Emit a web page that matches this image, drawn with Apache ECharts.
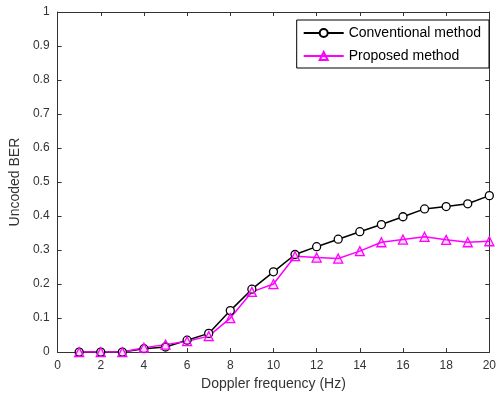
<!DOCTYPE html>
<html>
<head>
<meta charset="utf-8">
<script src="https://cdn.jsdelivr.net/npm/echarts@6/dist/echarts.min.js"></script>
<style>
  html, body { margin: 0; padding: 0; background: #fff; }
  #chart { width: 499px; height: 396px; }
</style>
</head>
<body>
<div id="chart"></div>
<script>
// Doppler frequency (Hz)
var freqs = [1, 2, 3, 4, 5, 6, 7, 8, 9, 10, 11, 12, 13, 14, 15, 16, 17, 18, 19, 20];
// uncoded BER
var conventional = [0, 0, 0, 0.010, 0.015, 0.035, 0.055, 0.122, 0.185, 0.236, 0.287, 0.310, 0.332, 0.354, 0.375, 0.398, 0.421, 0.428, 0.436, 0.460];
var proposed = [0, 0, 0, 0.013, 0.022, 0.032, 0.047, 0.100, 0.177, 0.200, 0.282, 0.278, 0.275, 0.297, 0.323, 0.331, 0.339, 0.330, 0.323, 0.326];

var pairs = function (ys) {
    return freqs.map(function (x, i) { return [x, ys[i]]; });
};

var FONT = 'Liberation Sans';
var labelStyle = { color: '#333', fontFamily: FONT, fontSize: 12 };
var lineStyle = { color: '#333', width: 1 };

var chart = echarts.init(document.getElementById('chart'));

var option = {
    animation: false,
    backgroundColor: '#fff',
    grid: { left: 54, top: 12, right: 7, bottom: 43 },
    legend: {
        right: 10,
        top: 20,
        orient: 'vertical',
        itemWidth: 40,
        itemHeight: 10,
        itemGap: 9,
        padding: [6, 8, 5, 6],
        borderColor: '#000',
        borderWidth: 1,
        backgroundColor: '#fff',
        textStyle: { color: '#000', fontFamily: FONT, fontSize: 14 },
        data: ['Conventional method', 'Proposed method']
    },
    xAxis: [
        {
            type: 'value', min: 0, max: 20, interval: 2,
            name: 'Doppler frequency (Hz)',
            nameLocation: 'middle', nameGap: 23,
            nameTextStyle: { color: '#333', fontFamily: FONT, fontSize: 14 },
            axisLine: { onZero: false, lineStyle: lineStyle },
            axisTick: { inside: true, length: 4, lineStyle: lineStyle },
            axisLabel: labelStyle,
            splitLine: { show: false }
        },
        {
            type: 'value', min: 0, max: 20, interval: 2, position: 'top',
            axisLine: { onZero: false, lineStyle: lineStyle },
            axisTick: { inside: true, length: 4, lineStyle: lineStyle },
            axisLabel: { show: false },
            splitLine: { show: false }
        }
    ],
    yAxis: [
        {
            type: 'value', min: 0, max: 1, interval: 0.1,
            name: 'Uncoded BER',
            nameLocation: 'middle', nameGap: 30,
            nameTextStyle: { color: '#333', fontFamily: FONT, fontSize: 14 },
            axisLine: { show: true, onZero: false, lineStyle: lineStyle },
            axisTick: { show: true, inside: true, length: 4, lineStyle: lineStyle },
            axisLabel: labelStyle,
            splitLine: { show: false }
        },
        {
            type: 'value', min: 0, max: 1, interval: 0.1, position: 'right',
            axisLine: { show: true, onZero: false, lineStyle: lineStyle },
            axisTick: { show: true, inside: true, length: 4, lineStyle: lineStyle },
            axisLabel: { show: false },
            splitLine: { show: false }
        }
    ],
    series: [
        {
            name: 'Conventional method',
            type: 'line',
            data: pairs(conventional),
            symbol: 'circle',
            symbolSize: 8,
            color: '#000',
            lineStyle: { color: '#000', width: 1.5 },
            itemStyle: { color: '#fff', borderColor: '#000', borderWidth: 1.3 }
        },
        {
            name: 'Proposed method',
            type: 'line',
            data: pairs(proposed),
            symbol: 'triangle',
            symbolSize: 9,
            color: '#ff00ff',
            lineStyle: { color: '#ff00ff', width: 1.5 },
            itemStyle: { color: 'rgba(255,0,255,0.15)', borderColor: '#ff00ff', borderWidth: 1.3 }
        }
    ]
};

chart.setOption(option);
</script>
</body>
</html>
